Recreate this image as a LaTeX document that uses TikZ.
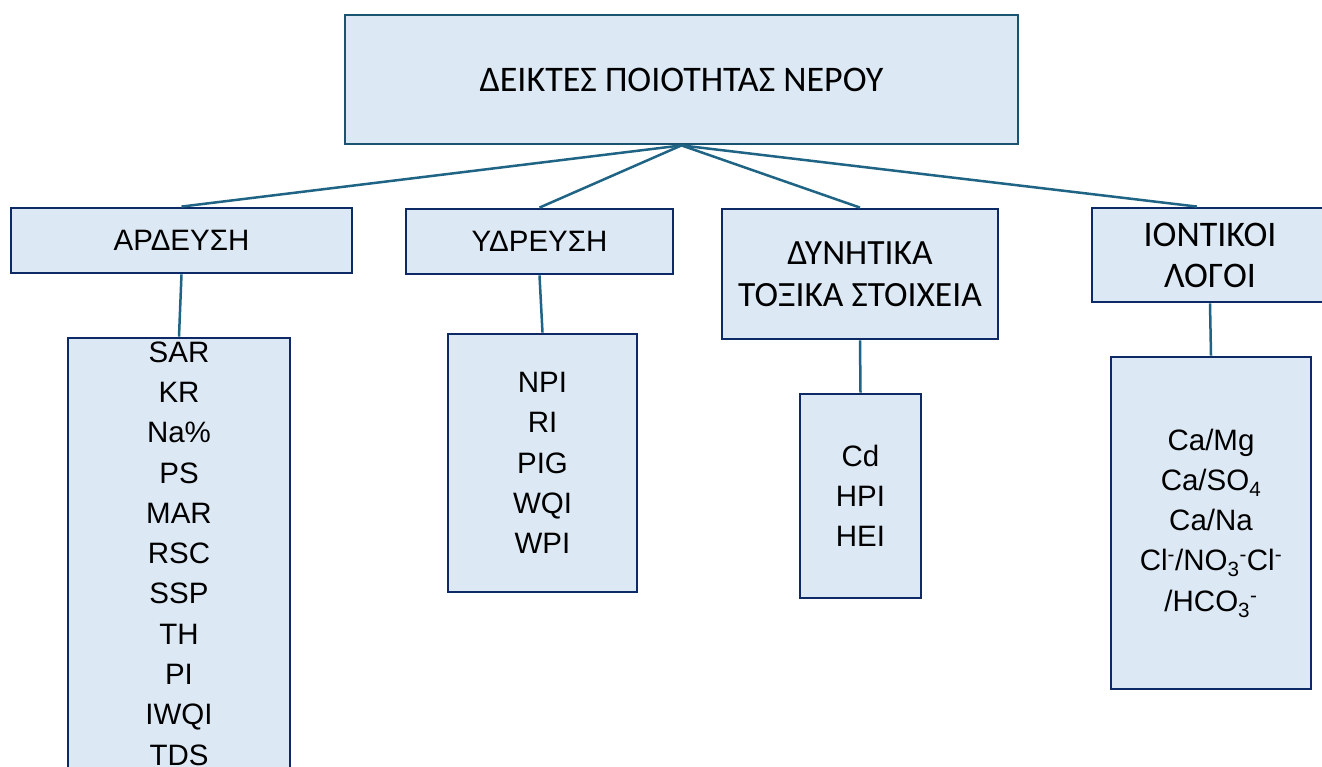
\documentclass[tikz,border=0pt]{standalone}
\usepackage{fontspec}
\setmainfont{Liberation Sans}
\newfontfamily\calfont{Carlito}
\definecolor{boxfill}{HTML}{DCE9F5}
\definecolor{navyline}{HTML}{0E2A66}
\definecolor{topline}{HTML}{1B5470}
\definecolor{linkcol}{HTML}{1F6484}
\tikzset{
  basebox/.style={draw, fill=boxfill, line width=2.8pt, rectangle, inner sep=0pt, align=center},
  topbox/.style={basebox, draw=topline},
  catbox/.style={basebox, draw=navyline},
  listbox/.style={basebox, draw=navyline, font=\fontsize{29.5}{40.3}\selectfont},
  link/.style={draw=linkcol, line width=2.5pt},
}
\begin{document}
\begin{tikzpicture}[x=1pt,y=-1pt]
\useasboundingbox (0,0) rectangle (1322,767);
\clip (0,0) rectangle (1322,767);
\fill[white] (0,0) rectangle (1322,767);
% boxes
\node[topbox, minimum width=673, minimum height=129, font=\calfont\fontsize{36}{40}\selectfont] (top) at (681.5,79.5) {ΔΕΙΚΤΕΣ ΠΟΙΟΤΗΤΑΣ ΝΕΡΟΥ};
\node[catbox, minimum width=341, minimum height=65, font=\fontsize{29.5}{34}\selectfont] (ard) at (181.5,240.5) {ΑΡΔΕΥΣΗ};
\node[catbox, minimum width=267, minimum height=65, font=\fontsize{29.5}{34}\selectfont] (ydr) at (539.5,241.5) {ΥΔΡΕΥΣΗ};
\node[catbox, minimum width=276, minimum height=130, font=\calfont\fontsize{35.5}{42}\selectfont] (dyn) at (860,274) {ΔΥΝΗΤΙΚΑ\\ΤΟΞΙΚΑ ΣΤΟΙΧΕΙΑ};
\node[catbox, minimum width=236, minimum height=94, font=\calfont\fontsize{36}{41}\selectfont] (ion) at (1210,255) {ΙΟΝΤΙΚΟΙ\\ΛΟΓΟΙ};
\node[listbox, minimum width=222, minimum height=431] (sar) at (179,553.5) {SAR\\KR\\Na\%\\PS\\MAR\\RSC\\SSP\\TH\\PI\\IWQI\\TDS};
\node[listbox, minimum width=189, minimum height=258] (npi) at (542.5,463) {NPI\\RI\\PIG\\WQI\\WPI};
\node[listbox, minimum width=121, minimum height=204] (cd) at (860.5,496) {Cd\\HPI\\HEI};
\node[listbox, minimum width=200, minimum height=332] (ca) at (1211,523) {Ca/Mg\\Ca/SO\textsubscript{4}\\Ca/Na\\Cl\textsuperscript{-}/NO\textsubscript{3}\textsuperscript{-}Cl\textsuperscript{-}\\/HCO\textsubscript{3}\textsuperscript{-}};
% connectors
\draw[link] (top.south) -- (ard.north);
\draw[link] (top.south) -- (ydr.north);
\draw[link] (top.south) -- (dyn.north);
\draw[link] (top.south) -- ([xshift=-13pt]ion.north);
\draw[link] (ard.south) -- (sar.north);
\draw[link] (ydr.south) -- (npi.north);
\draw[link] (dyn.south) -- (cd.north);
\draw[link] (ion.south) -- (ca.north);
\end{tikzpicture}
\end{document}
